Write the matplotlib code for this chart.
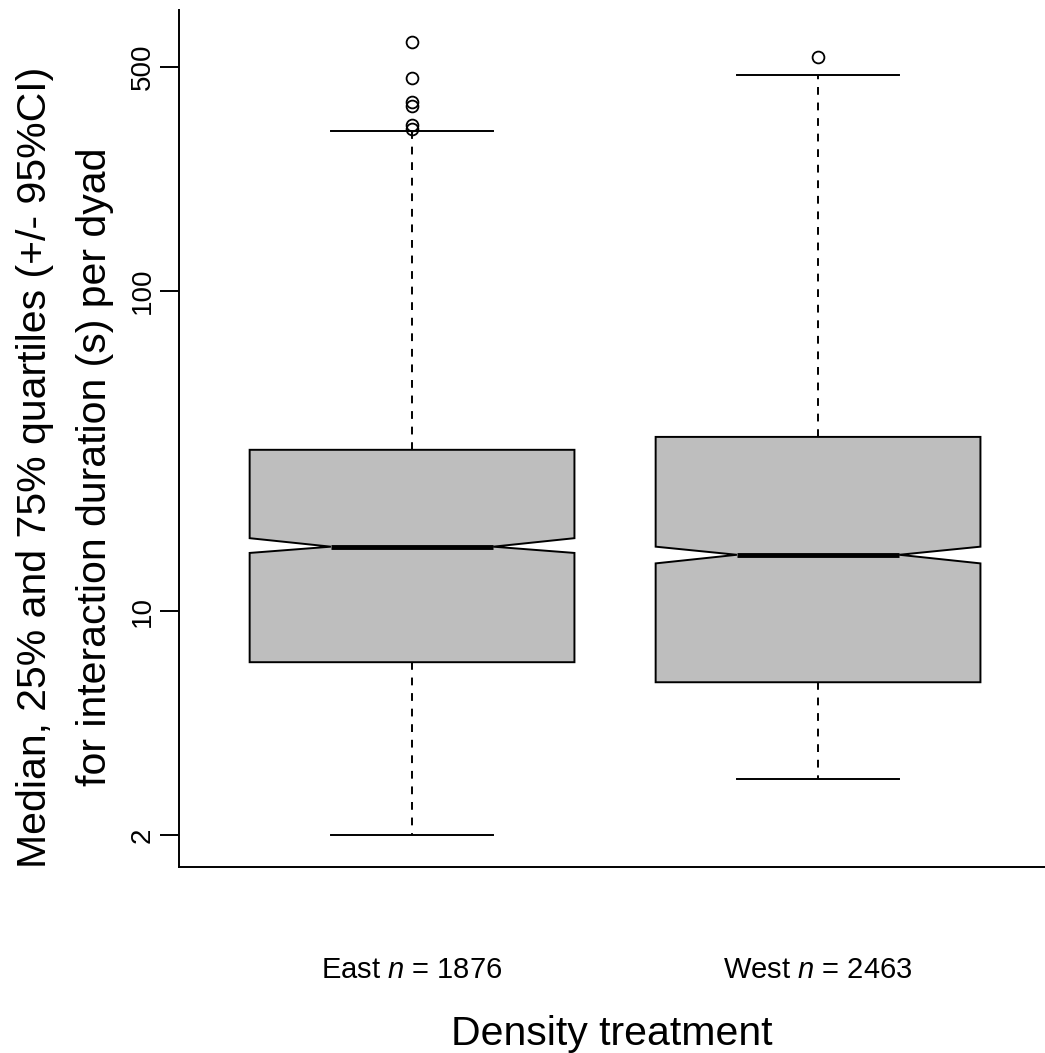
import matplotlib
matplotlib.use("Agg")
import matplotlib.pyplot as plt

plt.rcParams['font.family'] = ['Liberation Sans', 'DejaVu Sans']
plt.rcParams['mathtext.fontset'] = 'custom'
plt.rcParams['mathtext.rm'] = 'Liberation Sans'
plt.rcParams['mathtext.it'] = 'Liberation Sans:italic'

# data
groups = ['East', 'West']
n_obs = [1876, 2463]
medians = [15.9, 15.0]
q1 = [6.93, 6.0]
q3 = [31.9, 35.0]
whis_lo = [2.0, 3.0]
whis_hi = [316, 472]
ci_lo = [15.2, 14.1]
ci_hi = [16.9, 15.9]
outliers_east = [598, 462, 389, 378, 330, 320]
outliers_west = [536]
yticks = [2, 10, 100, 500]

W, H = 1045, 1053
fig = plt.figure(figsize=(W / 100, H / 100), dpi=100)
ax = fig.add_axes([179 / W, 1 - 867 / H, (W - 179) / W, (867 - 10) / H])

labels = [r'%s $\it{n}$ = %d' % (g, n) for g, n in zip(groups, n_obs)]
fliers = [outliers_east, outliers_west]
stats = []
for i in range(len(groups)):
    stats.append(dict(med=medians[i], q1=q1[i], q3=q3[i],
                      whislo=whis_lo[i], whishi=whis_hi[i],
                      cilo=ci_lo[i], cihi=ci_hi[i],
                      fliers=fliers[i], label=labels[i]))

lw = 1.4
ax.bxp(stats, positions=[1, 2], widths=0.8, shownotches=True,
       patch_artist=True,
       boxprops=dict(facecolor='#bebebe', edgecolor='black', linewidth=lw),
       medianprops=dict(color='black', linewidth=3.5, solid_capstyle='butt'),
       whiskerprops=dict(color='black', linewidth=lw, linestyle=(0, (4, 4))),
       capprops=dict(color='black', linewidth=lw),
       flierprops=dict(marker='o', markerfacecolor='none',
                       markeredgecolor='black', markersize=8.5,
                       markeredgewidth=1.3))

ax.set_yscale('log')
ax.set_ylim(1.59, 753)
ax.set_xlim(0.426, 2.559)
ax.set_yticks(yticks)
ax.set_yticklabels([str(t) for t in yticks], rotation=90, va='center',
                   fontsize=20)
ax.minorticks_off()
ax.tick_params(axis='y', length=13.7, width=lw, pad=3)
ax.tick_params(axis='x', length=0, pad=64, labelsize=21)

for s in ['top', 'right']:
    ax.spines[s].set_visible(False)
for s in ['left', 'bottom']:
    ax.spines[s].set_linewidth(lw)

fig.text(35 / W, 1 - 467 / H, 'Median, 25% and 75% quartiles (+/- 95%CI)',
         rotation=90, ha='center', va='center', fontsize=29.5)
fig.text(95 / W, 1 - 467 / H, 'for interaction duration (s) per dyad',
         rotation=90, ha='center', va='center', fontsize=29.5)
fig.text(612 / W, 1 - 1045 / H, 'Density treatment',
         ha='center', va='baseline', fontsize=29.5)

fig.savefig('out.png', dpi=100)
